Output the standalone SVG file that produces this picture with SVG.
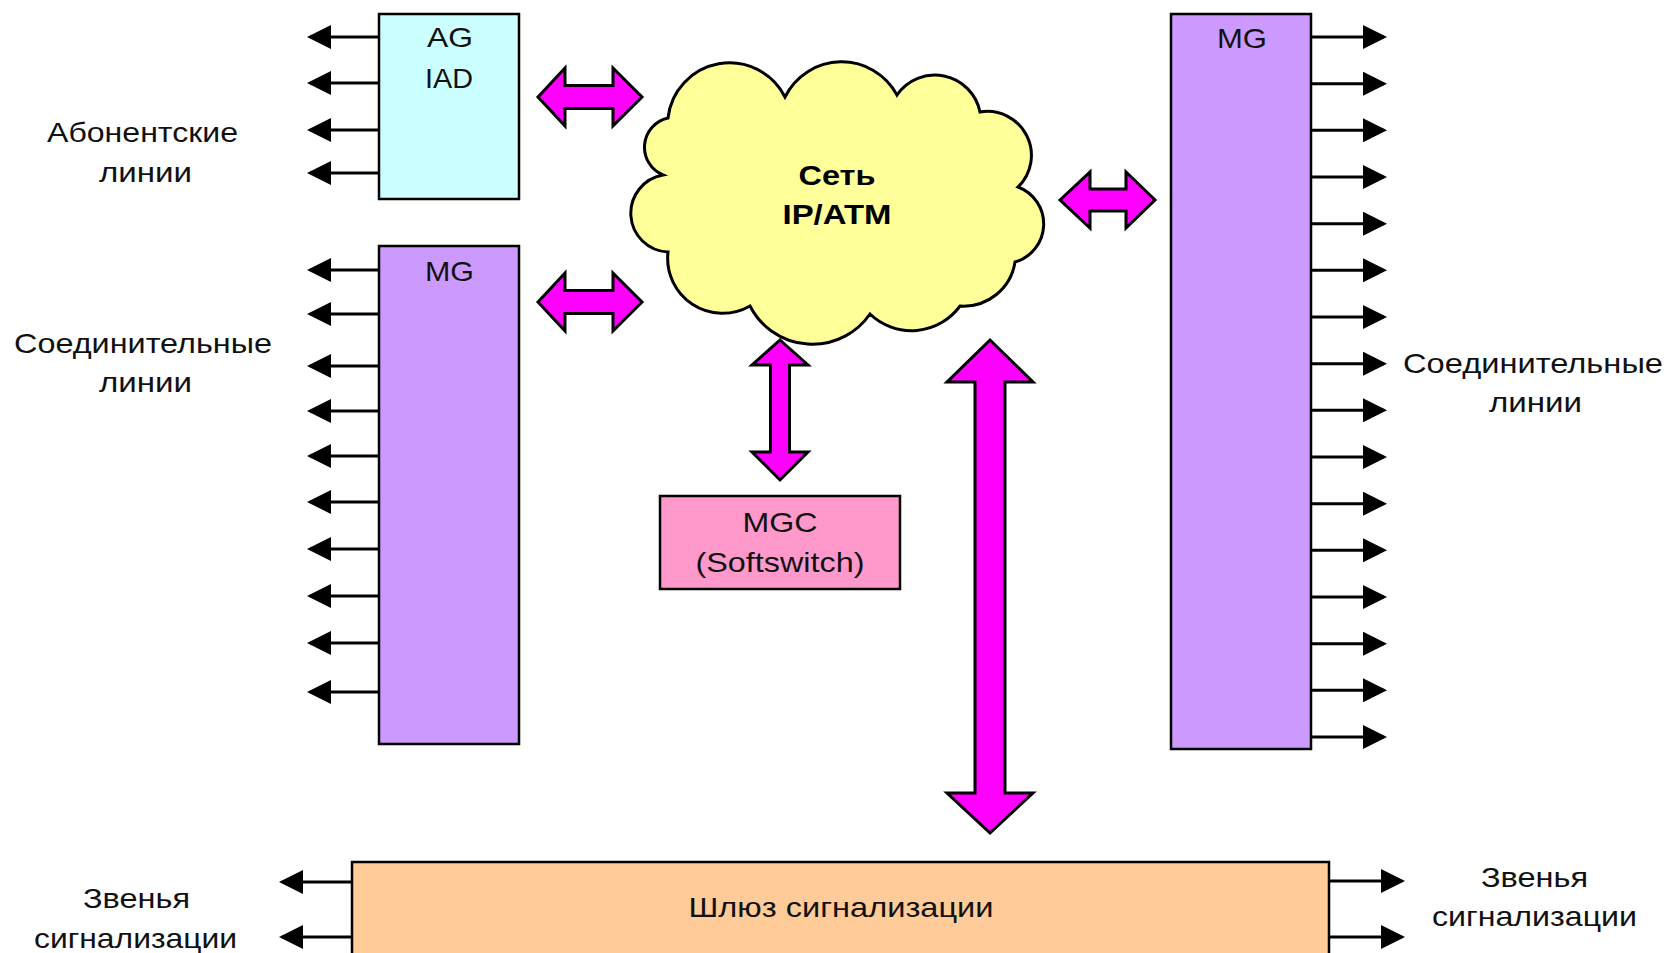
<svg xmlns="http://www.w3.org/2000/svg" width="1669" height="953" viewBox="0 0 1669 953">
<style>
.box{stroke:#000;stroke-width:2.5}
.t{font-family:"Liberation Sans",Arial,sans-serif;font-size:28px;fill:#111;text-anchor:middle}
.tb{font-family:"Liberation Sans",Arial,sans-serif;font-size:28px;font-weight:bold;fill:#000;text-anchor:middle}
.ln{stroke:#000;stroke-width:3;fill:none;marker-end:url(#ah)}
.mag{fill:#FF00FF;stroke:#000;stroke-width:3;stroke-linejoin:miter}
</style>
<defs>
<marker id="ah" viewBox="0 0 24 24" refX="21" refY="12" markerWidth="24" markerHeight="24" markerUnits="userSpaceOnUse" orient="auto">
<path d="M0,0 L24,12 L0,24 z" fill="#000"/>
</marker>
</defs>
<rect width="1669" height="953" fill="#fff"/>

<g id="connectors">
<!-- AG lines -->
<line class="ln" x1="379" y1="37" x2="310" y2="37"/>
<line class="ln" x1="379" y1="83" x2="310" y2="83"/>
<line class="ln" x1="379" y1="130" x2="310" y2="130"/>
<line class="ln" x1="379" y1="173" x2="310" y2="173"/>
<!-- left MG lines -->
<line class="ln" x1="379" y1="270" x2="310" y2="270"/>
<line class="ln" x1="379" y1="314" x2="310" y2="314"/>
<line class="ln" x1="379" y1="366" x2="310" y2="366"/>
<line class="ln" x1="379" y1="411" x2="310" y2="411"/>
<line class="ln" x1="379" y1="456" x2="310" y2="456"/>
<line class="ln" x1="379" y1="502" x2="310" y2="502"/>
<line class="ln" x1="379" y1="549" x2="310" y2="549"/>
<line class="ln" x1="379" y1="596" x2="310" y2="596"/>
<line class="ln" x1="379" y1="643" x2="310" y2="643"/>
<line class="ln" x1="379" y1="692" x2="310" y2="692"/>
<!-- right MG lines -->
<line class="ln" x1="1311" y1="37" x2="1384" y2="37"/>
<line class="ln" x1="1311" y1="83.7" x2="1384" y2="83.7"/>
<line class="ln" x1="1311" y1="130.3" x2="1384" y2="130.3"/>
<line class="ln" x1="1311" y1="177" x2="1384" y2="177"/>
<line class="ln" x1="1311" y1="223.7" x2="1384" y2="223.7"/>
<line class="ln" x1="1311" y1="270.3" x2="1384" y2="270.3"/>
<line class="ln" x1="1311" y1="317" x2="1384" y2="317"/>
<line class="ln" x1="1311" y1="363.7" x2="1384" y2="363.7"/>
<line class="ln" x1="1311" y1="410.3" x2="1384" y2="410.3"/>
<line class="ln" x1="1311" y1="457" x2="1384" y2="457"/>
<line class="ln" x1="1311" y1="503.7" x2="1384" y2="503.7"/>
<line class="ln" x1="1311" y1="550.3" x2="1384" y2="550.3"/>
<line class="ln" x1="1311" y1="597" x2="1384" y2="597"/>
<line class="ln" x1="1311" y1="643.7" x2="1384" y2="643.7"/>
<line class="ln" x1="1311" y1="690.3" x2="1384" y2="690.3"/>
<line class="ln" x1="1311" y1="737" x2="1384" y2="737"/>
<!-- gateway lines -->
<line class="ln" x1="352" y1="882" x2="282" y2="882"/>
<line class="ln" x1="352" y1="937" x2="282" y2="937"/>
<line class="ln" x1="1329" y1="881" x2="1402" y2="881"/>
<line class="ln" x1="1329" y1="937" x2="1402" y2="937"/>
<!-- magenta double arrows -->
<polygon class="mag" points="538,97 565,68 565,85.5 613,85.5 613,68 642,97 613,126 613,108.5 565,108.5 565,126"/>
<polygon class="mag" points="538,302 565,273 565,290.5 613,290.5 613,273 642,302 613,331 613,313.5 565,313.5 565,331"/>
<polygon class="mag" points="1060,200 1090,172 1090,189 1126,189 1126,172 1155,200 1126,228 1126,211 1090,211 1090,228"/>
<polygon class="mag" points="780,340 808,365 789.5,365 789.5,452 808,452 780,480 752,452 770.5,452 770.5,365 752,365"/>
<polygon class="mag" points="990,340 1033,382 1005,382 1005,793 1033,793 990,833 947,793 975,793 975,382 947,382"/>
</g>

<g id="ag">
<rect class="box" x="379" y="14" width="140" height="185" fill="#CCFFFF"/>
<text class="t" x="450" y="47" textLength="46" lengthAdjust="spacingAndGlyphs">AG</text>
<text class="t" x="449" y="88" textLength="48" lengthAdjust="spacingAndGlyphs">IAD</text>
</g>

<g id="mg-left">
<rect class="box" x="379" y="246" width="140" height="498" fill="#CC99FF"/>
<text class="t" x="449.5" y="281" textLength="49" lengthAdjust="spacingAndGlyphs">MG</text>
</g>

<g id="mg-right">
<rect class="box" x="1171" y="14" width="140" height="735" fill="#CC99FF"/>
<text class="t" x="1242" y="48" textLength="50" lengthAdjust="spacingAndGlyphs">MG</text>
</g>

<g id="cloud">
<path d="M668,118 A62,62 0 0 1 785,97 A63,63 0 0 1 897,95 A46,46 0 0 1 980,112 A44,44 0 0 1 1018,187 A39.5,39.5 0 0 1 1015,262 A52,52 0 0 1 960,306 A60,60 0 0 1 870,314 A70,70 0 0 1 750,306 A55,55 0 0 1 668,252 A38.8,38.8 0 0 1 663,175 A30,30 0 0 1 668,118 Z" fill="#FFFF99" stroke="#000" stroke-width="3"/>
<text class="tb" x="837" y="185" textLength="77" lengthAdjust="spacingAndGlyphs">Сеть</text>
<text class="tb" x="837" y="224" textLength="109" lengthAdjust="spacingAndGlyphs">IP/ATM</text>
</g>

<g id="mgc">
<rect class="box" x="660" y="496" width="240" height="93" fill="#FF99CC"/>
<text class="t" x="780" y="532" textLength="75" lengthAdjust="spacingAndGlyphs">MGC</text>
<text class="t" x="780" y="572" textLength="169" lengthAdjust="spacingAndGlyphs">(Softswitch)</text>
</g>

<g id="gateway">
<rect class="box" x="352" y="862" width="977" height="120" fill="#FFCC99"/>
<text class="t" x="841" y="917" textLength="305" lengthAdjust="spacingAndGlyphs">Шлюз сигнализации</text>
</g>

<g id="labels">
<text class="t" x="142.5" y="142" textLength="191" lengthAdjust="spacingAndGlyphs">Абонентские</text>
<text class="t" x="145.5" y="182" textLength="93" lengthAdjust="spacingAndGlyphs">линии</text>
<text class="t" x="143" y="353" textLength="258" lengthAdjust="spacingAndGlyphs">Соединительные</text>
<text class="t" x="145.5" y="392" textLength="93" lengthAdjust="spacingAndGlyphs">линии</text>
<text class="t" x="1533" y="373" textLength="260" lengthAdjust="spacingAndGlyphs">Соединительные</text>
<text class="t" x="1535.5" y="412" textLength="93" lengthAdjust="spacingAndGlyphs">линии</text>
<text class="t" x="136.5" y="908" textLength="107" lengthAdjust="spacingAndGlyphs">Звенья</text>
<text class="t" x="135.5" y="948" textLength="203" lengthAdjust="spacingAndGlyphs">сигнализации</text>
<text class="t" x="1534.5" y="887" textLength="107" lengthAdjust="spacingAndGlyphs">Звенья</text>
<text class="t" x="1534.5" y="926" textLength="205" lengthAdjust="spacingAndGlyphs">сигнализации</text>
</g>
</svg>
